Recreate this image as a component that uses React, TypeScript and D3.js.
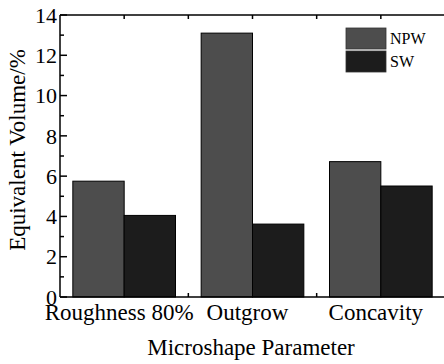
import React from "react";
import { scaleLinear, range } from "d3";

const categories = ["Roughness 80%", "Outgrow", "Concavity"];
const seriesNames = ["NPW", "SW"];
const npw = [5.75, 13.1, 6.72];
const sw = [4.05, 3.62, 5.51];
const yTickValues = [0, 2, 4, 6, 8, 10, 12, 14];

const colors = ["#4d4d4d", "#1c1c1c"];
const font = "'Liberation Serif', 'Times New Roman', serif";

export default function App() {
  const width = 444;
  const height = 364;
  const marginLeft = 60;
  const marginTop = 15;
  const plotBottom = 297;
  const plotRight = 445;

  // categories sit at 1, 2, 3 on a linear axis like Origin does
  const x = scaleLinear().domain([0.5, 3.5]).range([marginLeft, plotRight]);
  const y = scaleLinear().domain([0, 14]).range([plotBottom, marginTop]);
  const barW = 0.4;

  const xMajor = categories.map((_, i) => i + 1);
  const xMinor = [1.5, 2.5];
  const yMinor = range(1, 14, 2);

  return (
    <svg
      width={width}
      height={height}
      style={{ position: "absolute", left: 0, top: 0, background: "#fff", fontFamily: font }}
    >
      {/* major x ticks end up under the bars */}
      <g stroke="#000" strokeWidth={1.5}>
        {xMajor.map((v) => (
          <line key={"b" + v} x1={x(v)} x2={x(v)} y1={plotBottom} y2={plotBottom - 7} />
        ))}
      </g>

      {/* bars */}
      {[npw, sw].map((vals, s) => (
        <g key={s} fill={colors[s]} stroke="#000" strokeWidth={1}>
          {vals.map((v, i) => {
            const x0 = s === 0 ? i + 1 - barW : i + 1;
            return (
              <rect
                key={i}
                x={x(x0)}
                y={y(v)}
                width={x(x0 + barW) - x(x0)}
                height={y(0) - y(v)}
              />
            );
          })}
        </g>
      ))}

      {/* axes */}
      <g stroke="#000" strokeWidth={1.5} fill="none">
        <line x1={marginLeft} x2={plotRight} y1={plotBottom} y2={plotBottom} />
        <line x1={marginLeft} x2={plotRight} y1={marginTop} y2={marginTop} />
        <line x1={marginLeft} x2={marginLeft} y1={marginTop} y2={plotBottom} />
        {xMinor.map((v) => (
          <line key={"bm" + v} x1={x(v)} x2={x(v)} y1={plotBottom} y2={plotBottom - 4} />
        ))}
        {xMajor.concat(xMinor).map((v) => (
          <line key={"t" + v} x1={x(v)} x2={x(v)} y1={marginTop} y2={marginTop + 4} />
        ))}
        {yTickValues.map((v) => (
          <line key={"y" + v} x1={marginLeft} x2={marginLeft + 7} y1={y(v)} y2={y(v)} />
        ))}
        {yMinor.map((v) => (
          <line key={"ym" + v} x1={marginLeft} x2={marginLeft + 4} y1={y(v)} y2={y(v)} />
        ))}
      </g>

      {/* y tick labels */}
      <g fontSize={22} textAnchor="end" fill="#000">
        {yTickValues.map((v) => (
          <text key={v} x={marginLeft - 3} y={y(v)} dy="0.35em">
            {v}
          </text>
        ))}
      </g>

      {/* category labels */}
      <g fontSize={23} textAnchor="middle" fill="#000">
        {categories.map((c, i) => (
          <text key={c} x={x(i + 1) - 5} y={320}>
            {c}
          </text>
        ))}
      </g>

      {/* axis titles */}
      <text x={251} y={355} fontSize={23} textAnchor="middle">
        Microshape Parameter
      </text>
      <text
        transform={`translate(25,150) rotate(-90)`}
        fontSize={23}
        textAnchor="middle"
      >
        Equivalent Volume/%
      </text>

      {/* legend */}
      {seriesNames.map((name, i) => (
        <g key={name}>
          <rect x={346} y={28 + i * 23} width={40} height={21} fill={colors[i]} stroke="#333" strokeWidth={0.8} />
          <text x={390} y={44 + i * 22.5} fontSize={16}>
            {name}
          </text>
        </g>
      ))}
    </svg>
  );
}
